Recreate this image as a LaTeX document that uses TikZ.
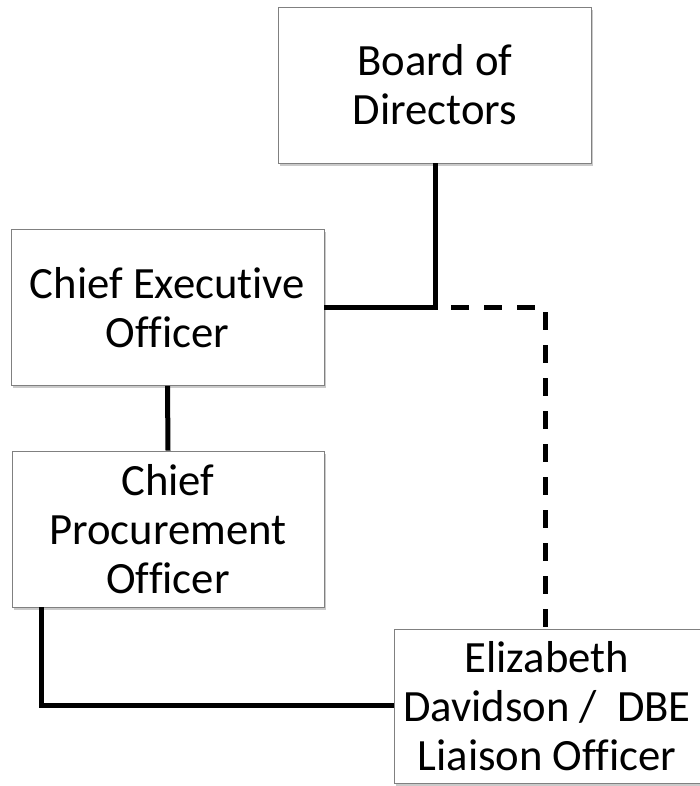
\documentclass[tikz,border=0pt]{standalone}
\usepackage{fontspec}
\setmainfont{Carlito}[Ligatures=NoCommon]
\usetikzlibrary{shadows}
\begin{document}
\begin{tikzpicture}[x=1pt,y=1pt,
    post/.style={draw=black!50,line width=0.8pt,fill=white,inner sep=0pt,
      minimum width=313pt,minimum height=156pt,align=center,
      font=\fontsize{44.7}{49}\selectfont,
      drop shadow={shadow xshift=1.5pt,shadow yshift=-3pt,opacity=0.35,fill=black!60}},
    solidline/.style={line width=5pt,line join=miter},
    dashline/.style={line width=5pt,dash pattern=on 18pt off 15pt,dash phase=17pt}]
      \useasboundingbox (0,0) rectangle (699,786);
      \draw
        (435,701) node[post] (board){Board of\\Directors}
        (167.5,478.5) node[post] (ceo){Chief Executive\\Officer}
        (168,257) node[post,minimum width=312pt] (cpo){Chief\\Procurement\\Officer}
        (547,80) node[post,minimum width=306pt,minimum height=154pt] (eliz){Elizabeth\\Davidson /\ \ DBE\\Liaison Officer};
      \begin{scope}[-]
        \draw[solidline] (ceo.east) -| (board.south);
        \draw[solidline] (ceo.south) -- (cpo.north);
        \draw[solidline] ([xshift=30pt]cpo.south west) |- (eliz.west);
        \draw[dashline] (board.south |- ceo.east) -| ([xshift=-2pt]eliz.north);
      \end{scope}
    \end{tikzpicture}
\end{document}
